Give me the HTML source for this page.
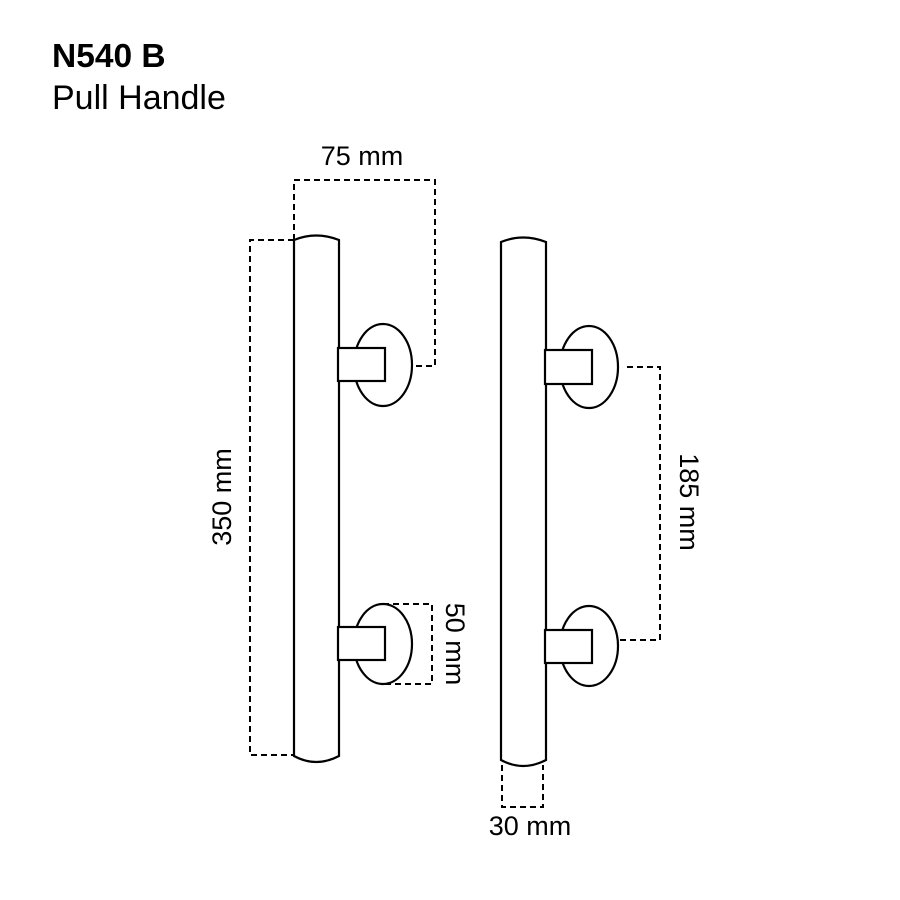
<!DOCTYPE html>
<html><head><style>body{margin:0;background:#fff}svg{display:block}</style></head>
<body>
<svg width="900" height="900" xmlns="http://www.w3.org/2000/svg" font-family="Liberation Sans, Arial, sans-serif">
<text x="52" y="67" font-size="33.5" font-weight="bold">N540 B</text>
<text x="52" y="109" font-size="34">Pull Handle</text>
<g fill="none" stroke="#000" stroke-width="2" stroke-dasharray="6,4">
<path d="M294,240 V180 H435 V366 H412"/>
<path d="M294,240 H250 V755 H294"/>
<path d="M383,604 H432 V684 H383"/>
<path d="M502,765 V807 H543 V765"/>
<path d="M627,367 H660 V640 H612"/>
</g>
<g fill="#fff" stroke="#000" stroke-width="2.2">
<ellipse cx="383" cy="365" rx="29" ry="41"/>
<ellipse cx="383" cy="644" rx="29" ry="40"/>
<ellipse cx="589" cy="367" rx="29" ry="41"/>
<ellipse cx="589" cy="646" rx="29" ry="40"/>
<path d="M294,240 Q316,231 339,240 V756 Q316,768 294,756 Z"/>
<path d="M501,242 Q523,233 546,242 V760 Q523,772 501,760 Z"/>
<rect x="338" y="348" width="47" height="33"/>
<rect x="338" y="627" width="47" height="33"/>
<rect x="545" y="350" width="47" height="34"/>
<rect x="545" y="630" width="47" height="33"/>
</g>
<g font-size="27">
<text x="362" y="165" text-anchor="middle">75 mm</text>
<text x="530" y="835" text-anchor="middle">30 mm</text>
<text transform="translate(231,497) rotate(-90)" text-anchor="middle">350 mm</text>
<text transform="translate(446,644) rotate(90)" text-anchor="middle">50 mm</text>
<text transform="translate(680,502) rotate(90)" text-anchor="middle">185 mm</text>
</g>
</svg>
</body></html>
